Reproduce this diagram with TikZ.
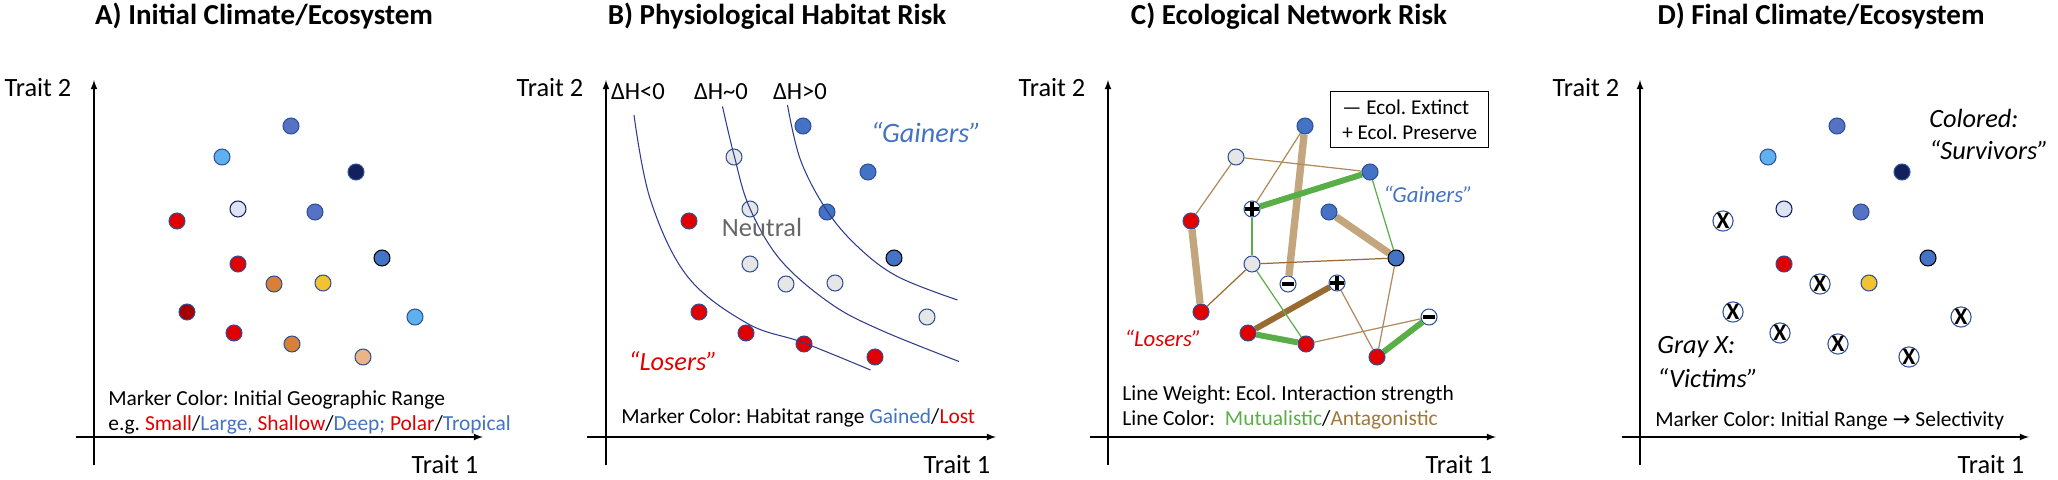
\documentclass[tikz,border=0pt]{standalone}
\usepackage{fontspec}
\setmainfont{Carlito}
\newfontfamily\arrowfont{DejaVu Sans}
\usepackage{xcolor}
\usetikzlibrary{backgrounds}
\definecolor{midblue}{RGB}{86, 114, 196}
\definecolor{skyblue}{RGB}{95, 176, 238}
\definecolor{navyblue}{RGB}{20, 32, 92}
\definecolor{paleblue}{RGB}{221, 227, 243}
\definecolor{lossred}{RGB}{224, 0, 0}
\definecolor{deepred}{RGB}{165, 0, 0}
\definecolor{rust}{RGB}{217, 128, 54}
\definecolor{golden}{RGB}{242, 194, 48}
\definecolor{peach}{RGB}{232, 180, 136}
\definecolor{gainblue}{RGB}{68, 114, 196}
\definecolor{neutralgray}{RGB}{230, 230, 230}
\definecolor{rimblue}{RGB}{47, 80, 150}
\definecolor{curveblue}{RGB}{47, 60, 140}
\definecolor{mutgreen}{RGB}{90, 174, 72}
\definecolor{antlight}{RGB}{196, 166, 126}
\definecolor{antthin}{RGB}{176, 137, 92}
\definecolor{antdark}{RGB}{154, 107, 48}
\definecolor{textbrown}{RGB}{160, 120, 56}

\begin{document}
\frenchspacing
\begin{tikzpicture}[
    marker/.style={circle, draw=rimblue, line width=0.6pt, minimum size=0.32cm, inner sep=0pt},
    plusmark/.style={marker, fill=white, path picture={
        \draw[black, line width=1.9pt] ([yshift=-0.6pt]path picture bounding box.north) -- ([yshift=0.6pt]path picture bounding box.south)
            ([xshift=0.6pt]path picture bounding box.west) -- ([xshift=-0.6pt]path picture bounding box.east);}},
    minusmark/.style={marker, fill=white, path picture={
        \draw[black, line width=2.6pt] ([xshift=1.3pt]path picture bounding box.west) -- ([xshift=-1.3pt]path picture bounding box.east);}},
    xmark/.style={marker, fill=white, font=\fontsize{13.5}{13.5}\selectfont\bfseries},
    axis/.style={-latex, line width=0.8pt},
    curve/.style={curveblue, line width=0.6pt},
    thicklink/.style={line width=3.4pt},
    thinlink/.style={line width=0.7pt},
    title/.style={anchor=base, font=\fontsize{16.5}{20}\selectfont\bfseries},
    trait/.style={anchor=base, font=\fontsize{15}{18}\selectfont},
    note/.style={anchor=base west, inner sep=0pt, font=\fontsize{12.2}{14}\selectfont},
    tag/.style={anchor=base, font=\fontsize{15}{18}\selectfont\itshape},
    smalltag/.style={anchor=base, font=\fontsize{13}{15}\selectfont\itshape},
    delta/.style={anchor=base, font=\fontsize{14}{16}\selectfont}
]
\useasboundingbox (0,0) rectangle (41.16,9.58);

% A) initial climate
\begin{scope}[shift={(1.88,0.84)}]
    \node[title] (atitle) at (3.40, 8.24) {A) Initial Climate/Ecosystem};
    \draw[axis] (-0.36, 0) -- (7.78, 0);
    \draw[axis] (0, -0.56) -- (0, 7.14);
    \node[trait] (ay) at (-1.12, 6.80) {Trait 2};
    \node[trait] (ax) at (7.02, -0.72) {Trait 1};

    \node[marker, fill=midblue] (a1) at (3.94, 6.22) {};
    \node[marker, fill=skyblue] (a2) at (2.56, 5.60) {};
    \node[marker, fill=navyblue] (a3) at (5.24, 5.30) {};
    \node[marker, fill=paleblue, draw=navyblue] (a4) at (2.88, 4.56) {};
    \node[marker, fill=midblue] (a5) at (4.42, 4.50) {};
    \node[marker, fill=lossred] (a6) at (1.66, 4.32) {};
    \node[marker, fill=gainblue, draw=black] (a7) at (5.76, 3.58) {};
    \node[marker, fill=lossred] (a8) at (2.88, 3.46) {};
    \node[marker, fill=rust] (a9) at (3.60, 3.06) {};
    \node[marker, fill=golden] (a10) at (4.58, 3.08) {};
    \node[marker, fill=deepred] (a11) at (1.86, 2.50) {};
    \node[marker, fill=skyblue] (a12) at (6.42, 2.40) {};
    \node[marker, fill=lossred] (a13) at (2.80, 2.08) {};
    \node[marker, fill=rust] (a14) at (3.96, 1.86) {};
    \node[marker, fill=peach] (a15) at (5.38, 1.60) {};

    \node[note] (anote1) at (0.28, 0.64) {Marker Color: Initial Geographic Range};
    \node[note] (anote2) at (0.28, 0.14) {e.g. \textcolor{lossred}{Small}/\textcolor{gainblue}{Large,} \textcolor{lossred}{Shallow}/\textcolor{gainblue}{Deep;} \textcolor{lossred}{Polar}/\textcolor{gainblue}{Tropical}};
\end{scope}

% B) physiological habitat risk
\begin{scope}[shift={(12.12,0.84)}]
    \node[title] (btitle) at (3.42, 8.24) {B) Physiological Habitat Risk};
    \draw[axis] (-0.38, 0) -- (7.80, 0);
    \draw[axis] (0, -0.56) -- (0, 7.14);
    \node[trait] (by) at (-1.12, 6.80) {Trait 2};
    \node[trait] (bx) at (7.02, -0.72) {Trait 1};

    \node[marker, fill=gainblue] (b1) at (3.94, 6.22) {};
    \node[marker, fill=neutralgray] (b2) at (2.56, 5.60) {};
    \node[marker, fill=gainblue] (b3) at (5.24, 5.30) {};
    \node[marker, fill=neutralgray] (b4) at (2.88, 4.56) {};
    \node[marker, fill=gainblue] (b5) at (4.42, 4.50) {};
    \node[marker, fill=lossred] (b6) at (1.66, 4.32) {};
    \node[marker, fill=gainblue, draw=black] (b7) at (5.76, 3.58) {};
    \node[marker, fill=neutralgray] (b8) at (2.88, 3.46) {};
    \node[marker, fill=neutralgray] (b9) at (3.60, 3.06) {};
    \node[marker, fill=neutralgray] (b10) at (4.58, 3.08) {};
    \node[marker, fill=lossred] (b11) at (1.86, 2.50) {};
    \node[marker, fill=neutralgray] (b12) at (6.42, 2.40) {};
    \node[marker, fill=lossred] (b13) at (2.80, 2.08) {};
    \node[marker, fill=lossred] (b14) at (3.96, 1.86) {};
    \node[marker, fill=lossred] (b15) at (5.38, 1.60) {};

    % habitat change contours
    \draw[curve] plot[smooth, tension=0.6] coordinates {(0.56,6.44) (0.89,4.74) (1.63,3.21) (2.83,2.27) (3.94,1.89) (5.29,1.34)};
    \draw[curve] plot[smooth, tension=0.6] coordinates {(2.33,6.61) (2.56,5.64) (2.87,4.59) (3.49,3.54) (4.49,2.67) (5.49,2.14) (7.06,1.51)};
    \draw[curve] plot[smooth, tension=0.6] coordinates {(3.63,6.64) (3.89,5.54) (4.41,4.54) (5.03,3.81) (5.83,3.21) (7.03,2.74)};
    \node[delta] (dh1) at (0.64, 6.74) {ΔH<0};
    \node[delta] (dh2) at (2.30, 6.74) {ΔH\textasciitilde0};
    \node[delta] (dh3) at (3.88, 6.74) {ΔH>0};

    \node[anchor=base, font=\fontsize{15}{18}\selectfont, text=black!60] (neutral) at (3.12, 4.00) {Neutral};
    \node[tag, font=\fontsize{16}{18}\selectfont\itshape, text=gainblue] (bgain) at (6.40, 5.88) {“Gainers”};
    \node[tag, text=lossred] (blose) at (1.34, 1.34) {“Losers”};
    \node[note] (bnote) at (0.30, 0.28) {Marker Color: Habitat range \textcolor{gainblue}{Gained}/\textcolor{lossred}{Lost}};
\end{scope}

% C) ecological network risk
\begin{scope}[shift={(22.16,0.84)}]
    \node[title] (ctitle) at (3.62, 8.24) {C) Ecological Network Risk};
    \draw[axis] (-0.36, 0) -- (7.76, 0);
    \draw[axis] (0, -0.56) -- (0, 7.14);
    \node[trait] (cy) at (-1.12, 6.80) {Trait 2};
    \node[trait] (cx) at (7.02, -0.72) {Trait 1};

    \node[marker, fill=gainblue] (c1) at (3.94, 6.22) {};
    \node[marker, fill=neutralgray] (c2) at (2.56, 5.60) {};
    \node[marker, fill=gainblue] (c3) at (5.24, 5.30) {};
    \node[plusmark] (c4) at (2.88, 4.56) {};
    \node[marker, fill=gainblue] (c5) at (4.42, 4.50) {};
    \node[marker, fill=lossred] (c6) at (1.66, 4.32) {};
    \node[marker, fill=gainblue, draw=black] (c7) at (5.76, 3.58) {};
    \node[marker, fill=neutralgray] (c8) at (2.88, 3.46) {};
    \node[minusmark] (c9) at (3.60, 3.06) {};
    \node[plusmark] (c10) at (4.58, 3.08) {};
    \node[marker, fill=lossred] (c11) at (1.86, 2.50) {};
    \node[minusmark] (c12) at (6.42, 2.40) {};
    \node[marker, fill=lossred] (c13) at (2.80, 2.08) {};
    \node[marker, fill=lossred] (c14) at (3.96, 1.86) {};
    \node[marker, fill=lossred] (c15) at (5.38, 1.60) {};

    % interaction links behind the species
    \begin{scope}[on background layer]
        \draw[thicklink, line width=4.2pt, antlight] (c1) -- (c9);
        \draw[thicklink, line width=4.2pt, antlight] (c5) -- (c7);
        \draw[thicklink, line width=4.2pt, antlight] (c6) -- (c11);
        \draw[thicklink, antdark] (c10) -- (c13);
        \draw[thinlink, antthin] (c2) -- (c6);
        \draw[thinlink, antthin] (c2) -- (c3);
        \draw[thinlink, antthin] (c1) -- (c4);
        \draw[thinlink, antthin] (c14) -- (c12);
        \draw[thinlink, antthin] (c10) -- (c15);
        \draw[thinlink, antthin] (c7) -- (c15);
        \draw[thinlink, antdark] (c8) -- (c7);
        \draw[thinlink, antdark] (c8) -- (c11);
        \draw[thinlink, mutgreen] (c4) -- (c8);
        \draw[thinlink, mutgreen] (c3) -- (c7);
        \draw[thinlink, mutgreen] (c8) -- (c14);
        \draw[thicklink, mutgreen] (c4) -- (c3);
        \draw[thicklink, mutgreen] (c13) -- (c14);
        \draw[thicklink, mutgreen] (c15) -- (c12);
    \end{scope}

    \node[draw, line width=0.8pt, anchor=north west, minimum width=3.16cm, minimum height=1.12cm,
          align=left, font=\fontsize{12}{14}\selectfont] (legend) at (4.44, 6.92) {— Ecol. Extinct\\+ Ecol. Preserve};
    \node[smalltag, text=gainblue] (cgain) at (6.40, 4.68) {“Gainers”};
    \node[smalltag, text=lossred] (close) at (1.10, 1.80) {“Losers”};
    \node[note] (cnote1) at (0.28, 0.74) {Line Weight: Ecol. Interaction strength};
    \node[note] (cnote2) at (0.28, 0.24) {Line Color:\ \ \textcolor{mutgreen}{Mutualistic}/\textcolor{textbrown}{Antagonistic}};
\end{scope}

% D) final climate
\begin{scope}[shift={(32.80,0.84)}]
    \node[title] (dtitle) at (3.62, 8.24) {D) Final Climate/Ecosystem};
    \draw[axis] (-0.36, 0) -- (7.78, 0);
    \draw[axis] (0, -0.56) -- (0, 7.14);
    \node[trait] (dy) at (-1.08, 6.80) {Trait 2};
    \node[trait] (dx) at (7.02, -0.72) {Trait 1};

    \node[marker, fill=midblue] (d1) at (3.94, 6.22) {};
    \node[marker, fill=skyblue] (d2) at (2.56, 5.60) {};
    \node[marker, fill=navyblue] (d3) at (5.24, 5.30) {};
    \node[marker, fill=paleblue, draw=navyblue] (d4) at (2.88, 4.56) {};
    \node[marker, fill=midblue] (d5) at (4.42, 4.50) {};
    \node[xmark] (d6) at (1.66, 4.32) {X};
    \node[marker, fill=gainblue, draw=black] (d7) at (5.76, 3.58) {};
    \node[marker, fill=lossred] (d8) at (2.88, 3.46) {};
    \node[xmark] (d9) at (3.60, 3.06) {X};
    \node[marker, fill=golden] (d10) at (4.58, 3.08) {};
    \node[xmark] (d11) at (1.86, 2.50) {X};
    \node[xmark] (d12) at (6.42, 2.40) {X};
    \node[xmark] (d13) at (2.80, 2.08) {X};
    \node[xmark] (d14) at (3.96, 1.86) {X};
    \node[xmark] (d15) at (5.38, 1.60) {X};

    \node[tag, anchor=base west, inner xsep=0pt] (dcol1) at (5.78, 6.18) {Colored:};
    \node[tag, anchor=base west, inner xsep=0pt] (dcol2) at (5.78, 5.54) {“Survivors”};
    \node[tag, anchor=base west, inner xsep=0pt] (dgray1) at (0.34, 1.68) {Gray X:};
    \node[tag, anchor=base west, inner xsep=0pt] (dgray2) at (0.34, 1.00) {“Victims”};
    \node[note] (dnote) at (0.30, 0.22) {Marker Color: Initial Range {\arrowfont →} Selectivity};
\end{scope}
\end{tikzpicture}
\end{document}
